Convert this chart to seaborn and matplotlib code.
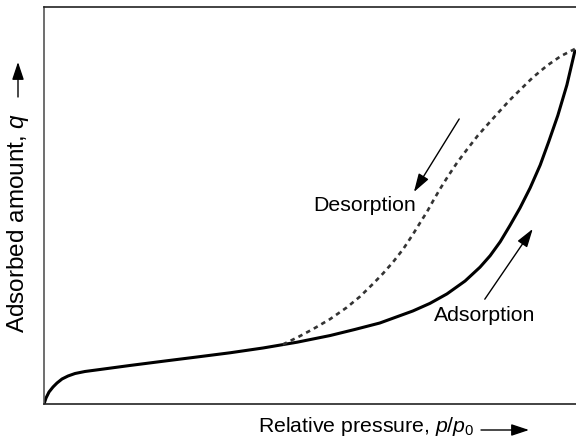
import matplotlib
matplotlib.use("Agg")
import matplotlib.pyplot as plt
import seaborn as sns
import pandas as pd

# Adsorption branch (relative pressure vs adsorbed amount, both scaled 0-1)
ads_x = [0, 0.0038, 0.0094, 0.0169, 0.0244, 0.0338, 0.0450, 0.0582, 0.0769,
         0.105, 0.161, 0.227, 0.287, 0.349, 0.411, 0.475, 0.537, 0.583, 0.630,
         0.692, 0.724, 0.756, 0.790, 0.818, 0.837, 0.856, 0.874, 0.893, 0.912,
         0.931, 0.947, 0.964, 0.981, 0.996]
ads_y = [0, 0.0151, 0.0302, 0.0428, 0.0529, 0.0630, 0.0705, 0.0768, 0.0819,
         0.0869, 0.0970, 0.1083, 0.1184, 0.1290, 0.1411, 0.1557, 0.1725, 0.1877,
         0.2040, 0.2343, 0.2534, 0.2773, 0.3098, 0.3446, 0.3735, 0.4088, 0.4491,
         0.4937, 0.5441, 0.6020, 0.6610, 0.7267, 0.8035, 0.8892]

# Desorption branch
des_x = [0.448, 0.477, 0.505, 0.537, 0.568, 0.593, 0.617, 0.636, 0.655, 0.674,
         0.692, 0.705, 0.719, 0.730, 0.743, 0.758, 0.775, 0.794, 0.814, 0.837,
         0.856, 0.874, 0.893, 0.917, 0.944, 0.970, 0.996]
des_y = [0.1499, 0.1688, 0.1889, 0.2141, 0.2431, 0.2708, 0.3023, 0.3287, 0.3577,
         0.3904, 0.4270, 0.4552, 0.4851, 0.5116, 0.5416, 0.5738, 0.6078, 0.6418,
         0.6763, 0.7111, 0.7393, 0.7657, 0.7909, 0.8224, 0.8526, 0.8766, 0.8942]

ads = pd.DataFrame({"x": ads_x, "y": ads_y})
des = pd.DataFrame({"x": des_x, "y": des_y})

sns.set_style("white")
plt.rcParams["font.family"] = ["Liberation Sans", "DejaVu Sans"]
plt.rcParams["text.color"] = "black"
plt.rcParams["mathtext.fontset"] = "custom"
plt.rcParams["mathtext.rm"] = "Liberation Sans"
plt.rcParams["mathtext.it"] = "Liberation Sans:italic"

fig = plt.figure(figsize=(5.76, 4.46), dpi=100)
ax = fig.add_axes([44 / 576, 42 / 446, 533 / 576, 397 / 446])

sns.lineplot(data=ads, x="x", y="y", ax=ax, color="black", lw=2.2,
             sort=False, estimator=None)
sns.lineplot(data=des, x="x", y="y", ax=ax, color="#333333", lw=1.9,
             linestyle=(0, (1.7, 1.6)), sort=False, estimator=None)

ax.set_xlim(0, 1)
ax.set_ylim(0, 1)
ax.set_xticks([])
ax.set_yticks([])
ax.set_xlabel("")
ax.set_ylabel("")
ax.spines["right"].set_visible(False)
for s in ["top", "bottom"]:
    ax.spines[s].set_color("#222222")
    ax.spines[s].set_linewidth(1.2)
ax.spines["left"].set_color("#555555")
ax.spines["left"].set_linewidth(1.2)

# curve labels with arrows
head = dict(arrowstyle="-|>,head_length=0.8,head_width=0.25", color="black",
            lw=1.0, mutation_scale=14, shrinkA=0, shrinkB=0)
ax.annotate("", xy=(0.694, 0.534), xytext=(0.779, 0.718), arrowprops=head)
ax.text(0.602, 0.501, "Desorption", ha="center", va="center", fontsize=15.3)
ax.annotate("", xy=(0.917, 0.441), xytext=(0.827, 0.264), arrowprops=head)
ax.text(0.826, 0.222, "Adsorption", ha="center", va="center", fontsize=15.3)

# axis titles with direction arrows
fig.text(258 / 576, 14 / 446, "Relative pressure, $p/p_0$", ha="left",
         va="baseline", fontsize=15.3)
fig.text(18 / 576, 113 / 446, "Adsorbed amount, $q$", rotation=90,
         ha="center", va="bottom", fontsize=17.5)
ax_head = dict(arrowstyle="-|>,head_length=0.9,head_width=0.3", color="black",
               lw=1.0, mutation_scale=12, shrinkA=0, shrinkB=0)
ax.annotate("", xy=(529, 16), xytext=(481, 16), xycoords="figure pixels",
            textcoords="figure pixels", arrowprops=ax_head, annotation_clip=False)
ax.annotate("", xy=(18, 384), xytext=(18, 349), xycoords="figure pixels",
            textcoords="figure pixels", arrowprops=ax_head, annotation_clip=False)

fig.savefig("out.png", dpi=100)
